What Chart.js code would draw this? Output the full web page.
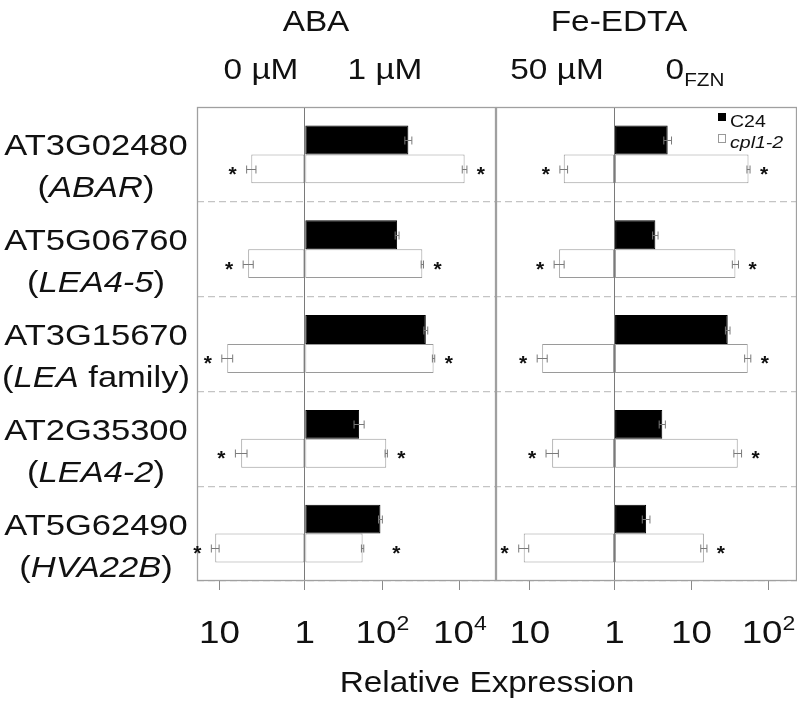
<!DOCTYPE html>
<html>
<head>
<meta charset="utf-8">
<script src="https://cdn.jsdelivr.net/npm/chart.js@4.4.1/dist/chart.umd.min.js"></script>
<style>
  html, body { margin: 0; padding: 0; background: #fff; }
  #wrap { width: 797px; height: 704px; position: relative; }
</style>
</head>
<body>
<div id="wrap"><canvas id="chart"></canvas></div>
<script>
// genes (rows, top to bottom)
const genes = ['AT3G02480', 'AT5G06760', 'AT3G15670', 'AT2G35300', 'AT5G62490'];
const geneNames = ['ABAR', 'LEA4-5', 'LEA', 'LEA4-2', 'HVA22B'];
const geneNotes = ['', '', ' family', '', ''];

// ABA panel, bar lengths in decades as drawn on the axis
const abaC24 = [2.67, 2.38, 3.12, 1.40, 1.95];
const abaC24Err = [0.09, 0.05, 0.05, 0.13, 0.05];
const abaCpl0 = [1.38, 1.46, 2.00, 1.64, 2.31];     // 0 µM, drawn to the left
const abaCpl0Err = [0.12, 0.13, 0.14, 0.15, 0.10];
const abaCpl1 = [4.12, 3.03, 3.32, 2.10, 1.49];     // 1 µM
const abaCpl1Err = [0.06, 0.03, 0.03, 0.03, 0.03];

// Fe-EDTA panel
const feC24 = [0.69, 0.53, 1.47, 0.62, 0.41];
const feC24Err = [0.05, 0.035, 0.03, 0.04, 0.05];
const feCpl50 = [0.66, 0.72, 0.94, 0.81, 1.18];     // 50 µM, drawn to the left
const feCpl50Err = [0.05, 0.065, 0.065, 0.08, 0.065];
const feCpl0 = [1.74, 1.57, 1.73, 1.60, 1.16];      // 0 FZN
const feCpl0Err = [0.02, 0.04, 0.04, 0.05, 0.04];

// axis ticks
const abaTickPos = [-2.2, 0, 2, 4];
const abaTickLabels = [['10', ''], ['1', ''], ['10', '2'], ['10', '4']];
const feTickPos = [-1.1, 0, 1, 2];
const feTickLabels = [['10', ''], ['1', ''], ['10', ''], ['10', '2']];

const FONT = '"Liberation Sans", Arial, sans-serif';
const SX = 1.15;

function bar(label, data, axis, stack, fill, border, err) {
    return {
        label: label, data: data, err: err, xAxisID: axis, stack: stack,
        backgroundColor: fill, borderColor: border, borderWidth: 1, borderSkipped: false,
        categoryPercentage: 0.61, barPercentage: 1
    };
}

function setFont(ctx, size, italic) {
    ctx.font = (italic ? 'italic ' : '') + size + 'px ' + FONT;
}

// run = [[text, size, italic, dy], ...]
function runWidth(ctx, run) {
    let w = 0;
    run.forEach(r => { setFont(ctx, r[1], r[2]); w += ctx.measureText(r[0]).width * SX; });
    return w;
}

function drawRun(ctx, run, cx, y, align = 'center') {
    let x = align === 'center' ? cx - runWidth(ctx, run) / 2 : cx;
    run.forEach(r => {
        setFont(ctx, r[1], r[2]);
        ctx.save();
        ctx.translate(x, y + (r[3] || 0));
        ctx.scale(SX, 1);
        ctx.fillText(r[0], 0, 0);
        ctx.restore();
        x += ctx.measureText(r[0]).width * SX;
    });
}

function xAxis(min, max, weight, ticks) {
    return {
        type: 'linear', position: 'bottom', stack: 'panels', stackWeight: weight,
        min: min, max: max,
        afterBuildTicks: s => { s.ticks = ticks.map(v => ({ value: v })); },
        afterFit: s => { s.height = 123; },
        ticks: { display: false },
        grid: {
            color: c => (c.tick && c.tick.value === 0) ? '#7a7a7a' : 'rgba(0,0,0,0)',
            tickColor: '#8a8a8a', tickLength: 9, lineWidth: 1
        },
        border: { display: false }
    };
}

const decor = {
    id: 'decor',
    afterDraw(chart) {
        const ctx = chart.ctx;
        const area = chart.chartArea;
        const xa = chart.scales.xa, xf = chart.scales.xf;
        const dss = chart.data.datasets;

        // panel frames
        ctx.save();
        ctx.strokeStyle = '#a0a0a0';
        ctx.lineWidth = 1.3;
        [xa, xf].forEach(s => ctx.strokeRect(s.left + 0.5, area.top + 0.5, s.width - 1, area.bottom - area.top - 1));
        ctx.restore();

        // error bars
        ctx.save();
        ctx.strokeStyle = '#7a7a7a';
        ctx.lineWidth = 1;
        dss.forEach((ds, i) => {
            const meta = chart.getDatasetMeta(i);
            const sc = chart.scales[ds.xAxisID];
            meta.data.forEach((el, j) => {
                const v = ds.data[j], e = ds.err[j];
                const x0 = sc.getPixelForValue(v - e), x1 = sc.getPixelForValue(v + e);
                const y = Math.round(el.y) + 0.5;
                ctx.beginPath();
                ctx.moveTo(x0, y); ctx.lineTo(x1, y);
                ctx.moveTo(x0, y - 4); ctx.lineTo(x0, y + 4);
                ctx.moveTo(x1, y - 4); ctx.lineTo(x1, y + 4);
                ctx.stroke();
            });
        });
        ctx.restore();

        // significance stars next to the cpl1-2 bars
        ctx.save();
        ctx.fillStyle = '#111';
        ctx.textAlign = 'center';
        ctx.font = 'bold 21px ' + FONT;
        const panels = [
            { sc: xa, c24: 0, left: 1, right: 2 },
            { sc: xf, c24: 3, left: 4, right: 5 }
        ];
        panels.forEach(p => {
            chart.getDatasetMeta(p.right).data.forEach((el, j) => {
                const rEnd = Math.max(
                    p.sc.getPixelForValue(dss[p.c24].data[j] + dss[p.c24].err[j]),
                    p.sc.getPixelForValue(dss[p.right].data[j] + dss[p.right].err[j]));
                const lEnd = p.sc.getPixelForValue(dss[p.left].data[j] - dss[p.left].err[j]);
                ctx.fillText('*', rEnd + 14, el.y + 12);
                ctx.fillText('*', lEnd - 14, el.y + 12);
            });
        });
        ctx.restore();

        ctx.save();
        ctx.fillStyle = '#111';
        ctx.textAlign = 'left';
        ctx.textBaseline = 'alphabetic';

        // gene labels
        const ys = chart.scales.y;
        genes.forEach((g, j) => {
            const yc = ys.getPixelForValue(j);
            drawRun(ctx, [[g, 30]], 96, yc + 1);
            drawRun(ctx, [['(', 30], [geneNames[j], 30, true], [geneNotes[j] + ')', 30]], 96, yc + 43);
        });

        // tick labels
        [[xa, abaTickPos, abaTickLabels], [xf, feTickPos, feTickLabels]].forEach(t => {
            t[1].forEach((v, k) => {
                const lab = t[2][k];
                drawRun(ctx, [[lab[0], 32], [lab[1], 20, false, -13]], t[0].getPixelForValue(v), 643);
            });
        });

        // headers
        drawRun(ctx, [['ABA', 29]], 316, 31);
        drawRun(ctx, [['Fe-EDTA', 29]], 619, 31);
        drawRun(ctx, [['0 µM', 29]], 261, 79);
        drawRun(ctx, [['1 µM', 29]], 385, 79);
        drawRun(ctx, [['50 µM', 29]], 557, 79);
        drawRun(ctx, [['0', 29], ['FZN', 18, false, 7]], 695, 79);

        // axis title
        drawRun(ctx, [['Relative Expression', 29]], 487, 692);

        // legend
        ctx.fillStyle = '#000';
        ctx.fillRect(718, 113, 8, 8);
        ctx.strokeStyle = '#999';
        ctx.lineWidth = 1;
        ctx.strokeRect(718.5, 134.5, 7, 8);
        ctx.fillStyle = '#111';
        drawRun(ctx, [['C24', 17]], 730, 127, 'left');
        drawRun(ctx, [['cpl1-2', 17, true]], 730, 148, 'left');
        ctx.restore();
    }
};

new Chart(document.getElementById('chart'), {
    type: 'bar',
    data: {
        labels: genes,
        datasets: [
            bar('C24', abaC24, 'xa', 'c24', '#000', '#000', abaC24Err),
            bar('cpl1-2 0 µM', abaCpl0.map(v => -v), 'xa', 'cpl', '#fff', '#9a9a9a', abaCpl0Err),
            bar('cpl1-2 1 µM', abaCpl1, 'xa', 'cpl', '#fff', '#9a9a9a', abaCpl1Err),
            bar('C24', feC24, 'xf', 'c24', '#000', '#000', feC24Err),
            bar('cpl1-2 50 µM', feCpl50.map(v => -v), 'xf', 'cpl', '#fff', '#9a9a9a', feCpl50Err),
            bar('cpl1-2 0 FZN', feCpl0, 'xf', 'cpl', '#fff', '#9a9a9a', feCpl0Err)
        ]
    },
    options: {
        indexAxis: 'y',
        responsive: true,
        maintainAspectRatio: false,
        animation: false,
        layout: { padding: { top: 107, left: 197, right: 0, bottom: 0 } },
        plugins: { legend: { display: false }, tooltip: { enabled: false } },
        scales: {
            y: {
                type: 'category',
                offset: true,
                ticks: { display: false },
                afterFit: s => { s.width = 0; },
                grid: {
                    offset: true, drawTicks: false, lineWidth: 1.3,
                    color: c => (c.index === 0 || c.index === genes.length) ? 'rgba(0,0,0,0)' : '#c4c4c4'
                },
                border: { display: false, dash: [7, 4] }
            },
            xa: xAxis(-2.78, 4.93, 299, abaTickPos),
            xf: xAxis(-1.54, 2.37, 301, feTickPos)
        }
    },
    plugins: [decor]
});
</script>
</body>
</html>
